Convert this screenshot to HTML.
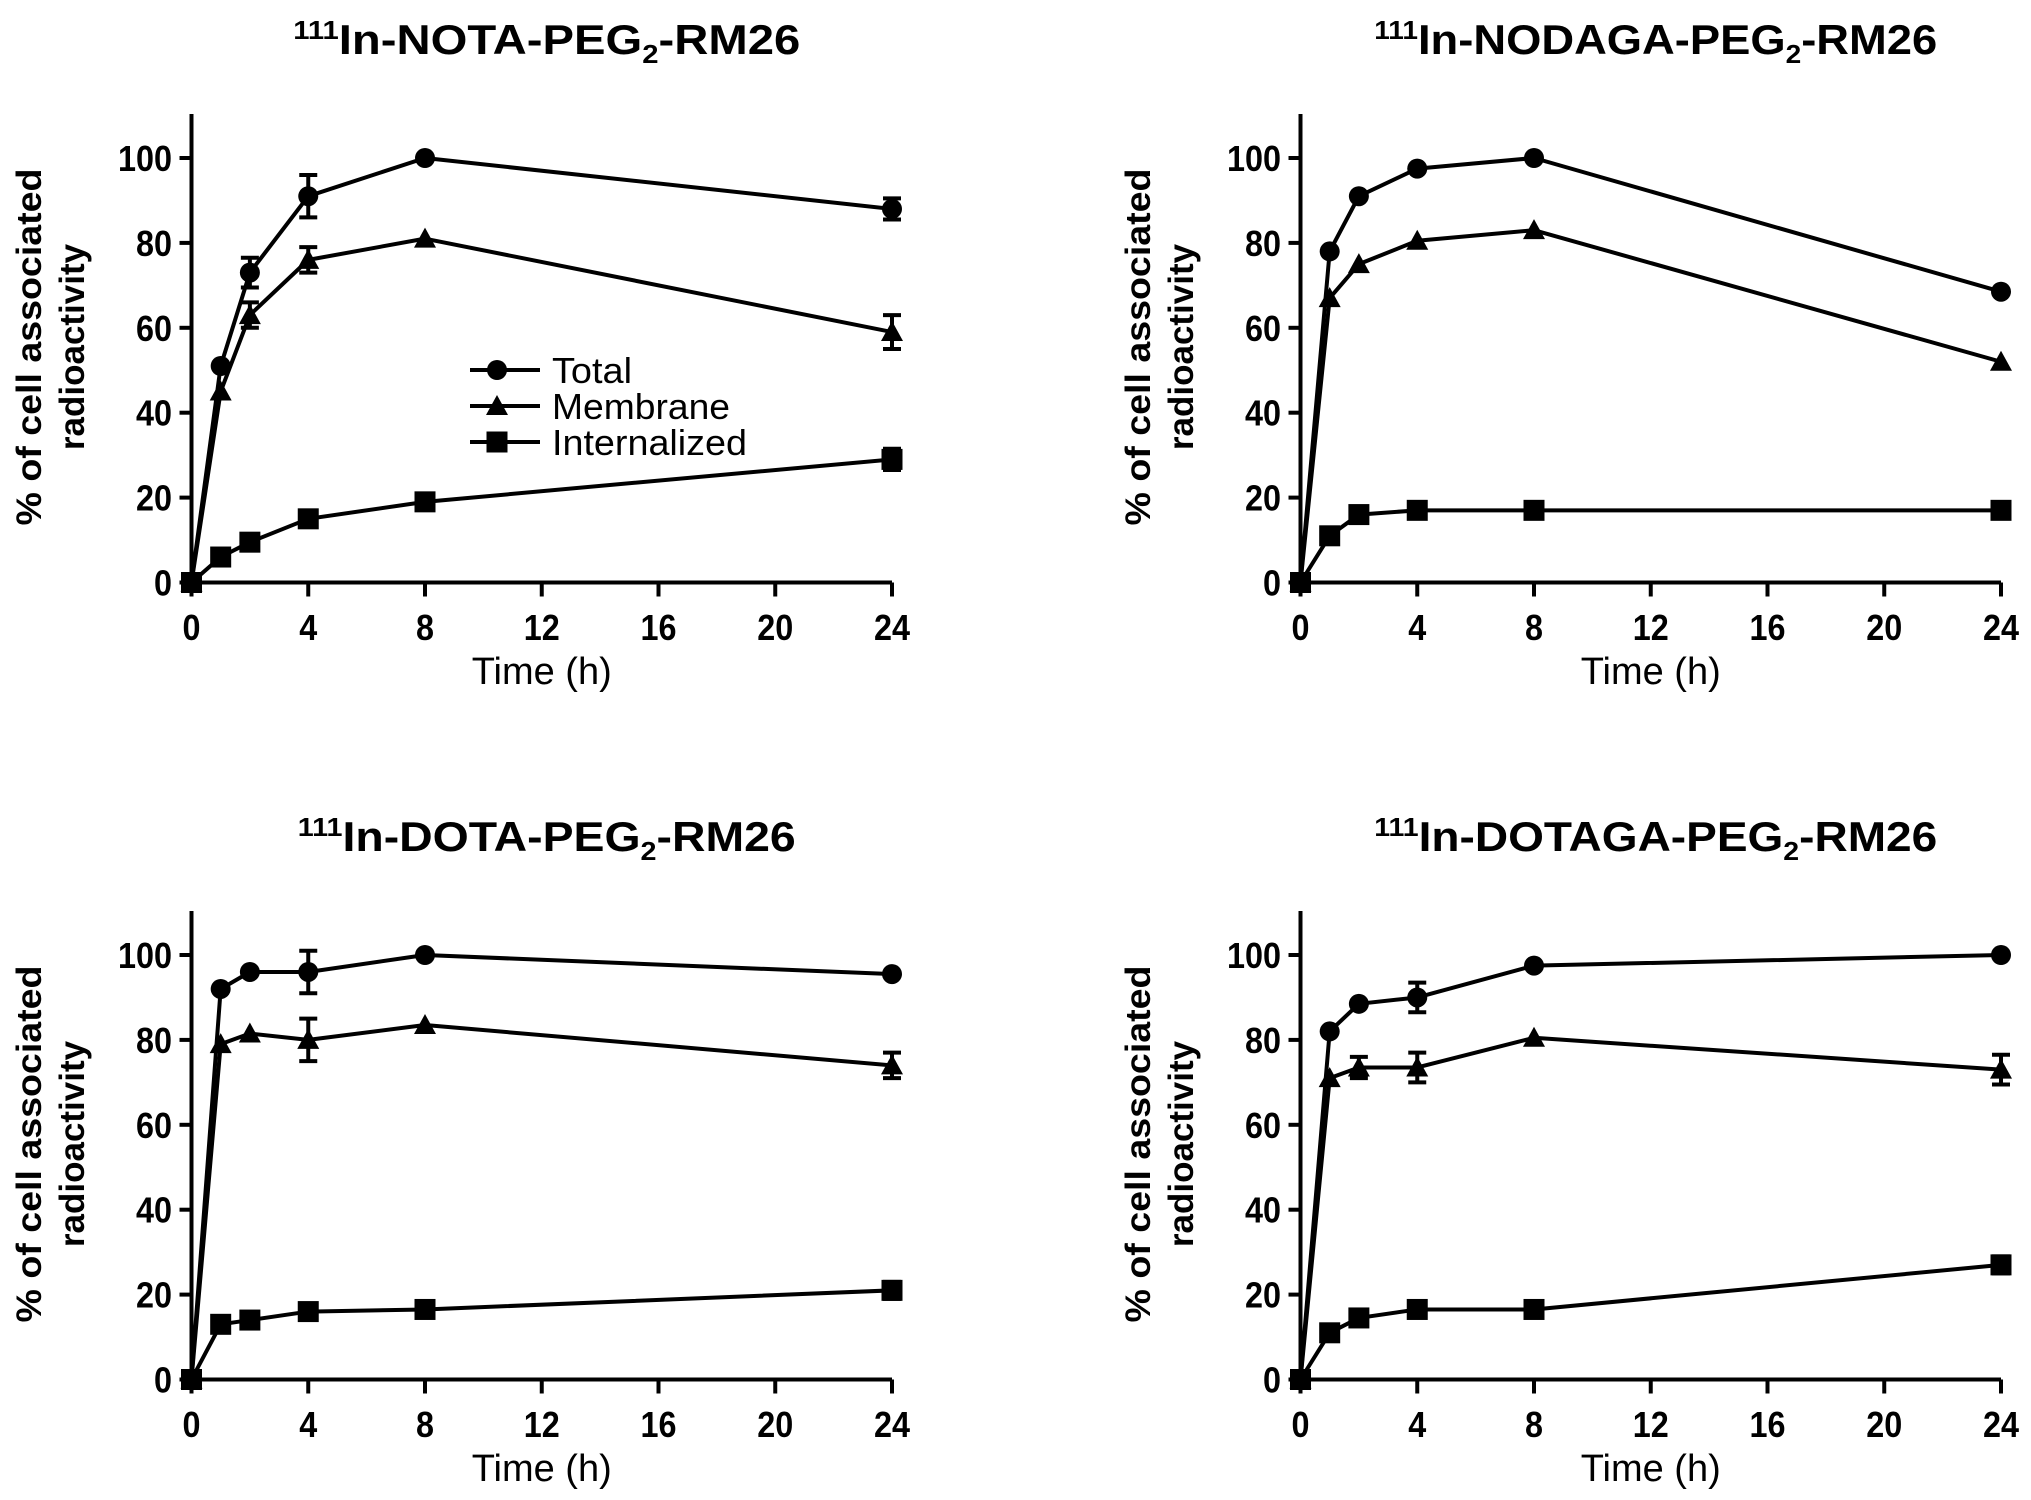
<!DOCTYPE html>
<html><head><meta charset="utf-8"><style>
html,body{margin:0;padding:0;background:#fff;}
svg{display:block;}
text{fill:#000;}
</style></head><body>
<svg id="fig" width="2031" height="1500" viewBox="0 0 2031 1500" xmlns="http://www.w3.org/2000/svg"></svg>
<script>
const times = [0, 1, 2, 4, 8, 24];
const xTicks = [0, 4, 8, 12, 16, 20, 24];
const yTicks = [0, 20, 40, 60, 80, 100];
const titles = ["NOTA", "NODAGA", "DOTA", "DOTAGA"];
const seriesNames = ["Total", "Membrane", "Internalized"];
const totalNOTA = [0, 51, 73, 91, 100, 88];
const totalNOTAErr = [0, 0, 3.5, 5, 0, 2.5];
const membNOTA = [0, 45, 63, 76, 81, 59];
const membNOTAErr = [0, 0, 3, 3, 0, 4];
const intNOTA = [0, 6, 9.5, 15, 19, 29];
const intNOTAErr = [0, 0, 0, 1.5, 0, 2.5];
const totalNODAGA = [0, 78, 91, 97.5, 100, 68.5];
const totalNODAGAErr = [0, 0, 0, 0, 0, 0];
const membNODAGA = [0, 67, 75, 80.5, 83, 52];
const membNODAGAErr = [0, 0, 0, 0, 0, 0];
const intNODAGA = [0, 11, 16, 17, 17, 17];
const intNODAGAErr = [0, 0, 0, 0, 0, 0];
const totalDOTA = [0, 92, 96, 96, 100, 95.5];
const totalDOTAErr = [0, 0, 0, 5, 0, 0];
const membDOTA = [0, 79, 81.5, 80, 83.5, 74];
const membDOTAErr = [0, 0, 0, 5, 0, 3];
const intDOTA = [0, 13, 14, 16, 16.5, 21];
const intDOTAErr = [0, 0, 0, 0, 0, 2];
const totalDOTAGA = [0, 82, 88.5, 90, 97.5, 100];
const totalDOTAGAErr = [0, 0, 0, 3.5, 0, 0];
const membDOTAGA = [0, 71, 73.5, 73.5, 80.5, 73];
const membDOTAGAErr = [0, 0, 2.5, 3.5, 0, 3.5];
const intDOTAGA = [0, 11, 14.5, 16.5, 16.5, 27];
const intDOTAGAErr = [0, 0, 0, 0, 0, 2];

const panels = [
  {title: titles[0], dx: 0, dy: 0, s: [[totalNOTA, totalNOTAErr], [membNOTA, membNOTAErr], [intNOTA, intNOTAErr]], legend: true, tw: 507},
  {title: titles[1], dx: 1109, dy: 0, s: [[totalNODAGA, totalNODAGAErr], [membNODAGA, membNODAGAErr], [intNODAGA, intNODAGAErr]], legend: false, tw: 563},
  {title: titles[2], dx: 0, dy: 797, s: [[totalDOTA, totalDOTAErr], [membDOTA, membDOTAErr], [intDOTA, intDOTAErr]], legend: false, tw: 498},
  {title: titles[3], dx: 1109, dy: 797, s: [[totalDOTAGA, totalDOTAGAErr], [membDOTAGA, membDOTAGAErr], [intDOTAGA, intDOTAGAErr]], legend: false, tw: 563}
];

const NS = "http://www.w3.org/2000/svg";
const svg = document.getElementById("fig");
function mk(tag, attrs, parent) {
  const e = document.createElementNS(NS, tag);
  for (const k in attrs) e.setAttribute(k, attrs[k]);
  parent.appendChild(e);
  return e;
}
const X0 = 191.5, X1 = 892, Y0 = 582.5, Y100 = 158, YTOP = 114;
const narrow = '"Liberation Sans Narrow", "Liberation Sans", sans-serif';
const SW = 4;

function marker(g, kind, cx, cy) {
  let m;
  if (kind === 0) m = mk("circle", {cx: cx, cy: cy, r: 10}, g);
  else if (kind === 1) m = mk("polygon", {points: `${cx},${cy-11} ${cx+11},${cy+9} ${cx-11},${cy+9}`}, g);
  else m = mk("rect", {x: cx - 10.5, y: cy - 10.5, width: 21, height: 21}, g);
  
  
  m.setAttribute('fill', '#000');
  return m;
}
function tickText(g, x, y, anchor, str, w) {
  const t = mk("text", {x: x, y: y, "text-anchor": anchor, "font-family": narrow, "font-weight": "bold", "font-size": 36, textLength: w, lengthAdjust: "spacingAndGlyphs"}, g);
  t.textContent = str;
  return t;
}

panels.forEach((p, pi) => {
  const g = mk("g", {transform: `translate(${p.dx},${p.dy})`}, svg);
  
  
  const xs = t => X0 + (X1 - X0) * t / 24;
  const ys = v => Y0 + (Y100 - Y0) * v / 100;

  const tt = mk("text", {x: (X0 + X1) / 2 + 5, y: 54, "text-anchor": "middle", "font-family": narrow, "font-weight": "bold", "font-size": 42, textLength: p.tw, lengthAdjust: "spacingAndGlyphs"}, g);
  
  
  tt.innerHTML = '<tspan font-size="26" dy="-15">111</tspan><tspan dy="15">In-' + p.title + '-PEG</tspan><tspan font-size="26" dy="9">2</tspan><tspan dy="-9">-RM26</tspan>';

  const ya = mk("line", {x1: X0, y1: YTOP, x2: X0, y2: Y0, stroke: "#000", "stroke-width": SW}, g);
  
  
  const xa = mk("line", {x1: X0, y1: Y0, x2: X1, y2: Y0, stroke: "#000", "stroke-width": SW}, g);
  
  
  xTicks.forEach(t => {
    const tk = mk("line", {x1: xs(t), y1: Y0, x2: xs(t), y2: Y0 + 14, stroke: "#000", "stroke-width": SW}, g);
    
    
    const s = String(t);
    const tl = tickText(g, xs(t), 640, "middle", s, s.length * 18);
    
    
  });
  yTicks.forEach(v => {
    const tk = mk("line", {x1: X0 - 12, y1: ys(v), x2: X0, y2: ys(v), stroke: "#000", "stroke-width": SW}, g);
    
    
    const s = String(v);
    const tl = tickText(g, 172, ys(v) + 13, "end", s, s.length * 18);
    
    
  });
  const xt = mk("text", {x: (X0 + X1) / 2, y: 684, "text-anchor": "middle", "font-family": narrow, "font-size": 38, textLength: 140, lengthAdjust: "spacingAndGlyphs"}, g);
  
  
  xt.textContent = "Time (h)";
  const yt = mk("text", {transform: "translate(0,347) rotate(-90)", "text-anchor": "middle", "font-family": '"Liberation Sans", sans-serif', "font-weight": "bold", "font-size": 35}, g);
  
  
  yt.innerHTML = '<tspan x="0" y="41" textLength="357" lengthAdjust="spacingAndGlyphs">% of cell associated</tspan><tspan x="0" y="84">radioactivity</tspan>';

  p.s.forEach((ser, si) => {
    const vals = ser[0], errs = ser[1];
    const sg = mk("g", {}, g);
    
    
    const pts = times.map((t, i) => xs(t) + "," + ys(vals[i])).join(" ");
    const pl = mk("polyline", {points: pts, fill: "none", stroke: "#000", "stroke-width": SW, "stroke-linejoin": "round"}, sg);
    
    
    times.forEach((t, i) => {
      if (errs[i] > 0) {
        const cx = xs(t), a = ys(vals[i] + errs[i]), b = ys(vals[i] - errs[i]);
        const eb = mk("path", {d: `M${cx},${a}V${b}M${cx-9},${a}H${cx+9}M${cx-9},${b}H${cx+9}`, stroke: "#000", "stroke-width": SW, fill: "none"}, sg);
        
        
      }
      marker(sg, si, xs(t), ys(vals[i]));
    });
  });

  if (p.legend) {
    const lg = mk("g", {}, g);
    
    
    const ly = [370, 406, 442];
    const lw = [80, 178, 195];
    seriesNames.forEach((n, i) => {
      const e = mk("g", {}, lg);
      
      
      mk("line", {x1: 470, y1: ly[i], x2: 540, y2: ly[i], stroke: "#000", "stroke-width": SW}, e);
      marker(e, i, 497, ly[i]);
      const lt = mk("text", {x: 552, y: ly[i] + 13, "font-family": narrow, "font-size": 36, textLength: lw[i], lengthAdjust: "spacingAndGlyphs"}, e);
      
      
      lt.textContent = n;
    });
  }
});
</script>
</body></html>
